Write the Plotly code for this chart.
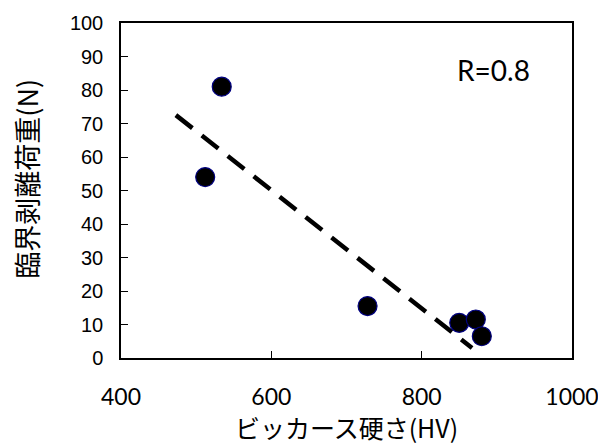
import plotly.graph_objects as go

# Data
hardness_hv = [512, 534, 728, 850, 872, 880]
critical_load_n = [54, 81, 15.5, 10.5, 11.5, 6.5]

trend_x = [473, 867]
trend_y = [72.5, 3]

x_ticks = [400, 600, 800, 1000]
y_ticks = [0, 10, 20, 30, 40, 50, 60, 70, 80, 90, 100]

r_label = "R=0.8"
x_title = "ビッカース硬さ(HV)"
y_title = "臨界剥離荷重(N)"

fig = go.Figure()

fig.add_trace(go.Scatter(
    x=trend_x, y=trend_y, mode="lines",
    line=dict(color="black", width=4.5, dash="21px,12px"),
    hoverinfo="skip", showlegend=False,
))

fig.add_trace(go.Scatter(
    x=hardness_hv, y=critical_load_n, mode="markers",
    marker=dict(size=19, color="black", line=dict(color="#000080", width=1.2)),
    showlegend=False,
))

fig.add_annotation(
    x=896, y=86, xref="x", yref="y", text=r_label, showarrow=False,
    font=dict(family="Lato, Open Sans, sans-serif", size=28, color="black"),
)

jp_font = "Noto Sans CJK JP"

fig.add_annotation(
    x=-0.21, y=0.536, xref="paper", yref="paper", text=y_title, showarrow=False,
    textangle=-90, xanchor="center", yanchor="middle",
    font=dict(family=jp_font, size=27, color="black"),
)

# page body has an 8px default margin, so the figure is shrunk by that much
fig.update_layout(
    width=598, height=437,
    margin=dict(l=113, r=34, t=15, b=87, autoexpand=False),
    paper_bgcolor="white", plot_bgcolor="white",
    xaxis=dict(
        range=[400, 1000], tickvals=x_ticks, ticktext=[str(v) for v in x_ticks],
        ticks="inside", ticklen=7, tickwidth=1.3, tickcolor="black",
        showline=True, linecolor="black", linewidth=1.5, mirror=True,
        showgrid=False, zeroline=False,
        tickfont=dict(family="Lato, Open Sans, sans-serif", size=23, color="black"),
        ticklabelstandoff=18,
        title=dict(text=x_title, font=dict(family=jp_font, size=25, color="black"), standoff=14),
    ),
    yaxis=dict(
        range=[0, 100], tickvals=y_ticks, ticktext=[str(v) for v in y_ticks],
        ticks="inside", ticklen=7, tickwidth=1.3, tickcolor="black",
        showline=True, linecolor="black", linewidth=1.5, mirror=True,
        showgrid=False, zeroline=False,
        tickfont=dict(family="Liberation Sans, Arial, sans-serif", size=20, color="black"),
        ticklabelstandoff=12,
    ),
)

fig.write_html("out.html")
